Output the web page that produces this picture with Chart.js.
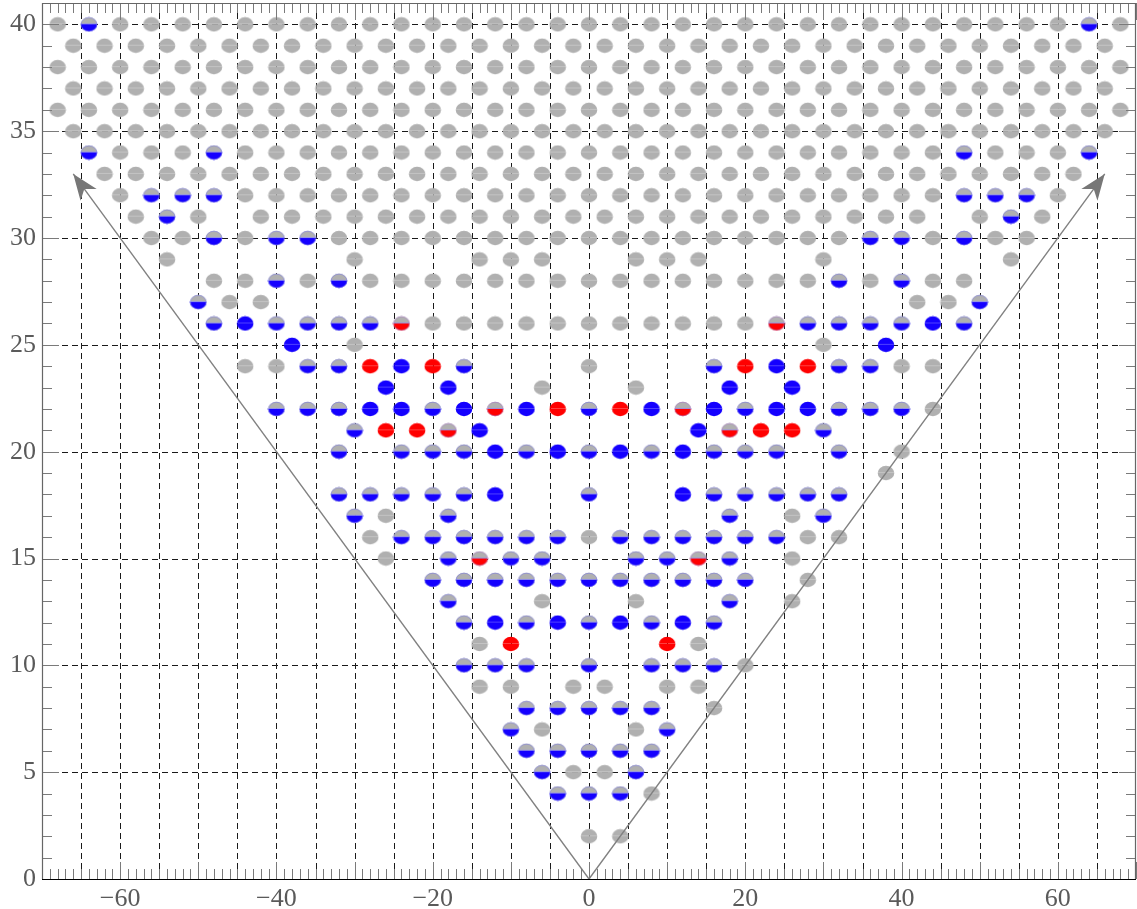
<!DOCTYPE html>
<html><head><meta charset="utf-8">
<script src="https://cdn.jsdelivr.net/npm/chart.js@4"></script>
<style>html,body{margin:0;padding:0;background:#fff}#wrap{width:1137px;height:909px;position:relative}</style>
</head><body><div id="wrap"><canvas id="c"></canvas></div>
<script>
// ---- tick labels / grid values ----
const xTickLabels = [-60,-40,-20,0,20,40,60];
const yTickLabels = [0,5,10,15,20,25,30,35,40];
const gridXValues = [-65,-60,-55,-50,-45,-40,-35,-30,-25,-20,-15,-10,-5,5,10,15,20,25,30,35,40,45,50,55,60,65,0];
const gridYValues = [5,10,15,20,25,30,35,40];

// ---- series: rows of [y, [x values]] ----
const grayRows = [
 [40,[-68,-60,-56,-52,-48,-44,-40,-36,-32,-28,-24,-20,-16,-12,-8,-4,0,4,8,12,16,20,24,28,32,36,40,44,48,52,56,60,68]],
 [39,[-66,-62,-58,-54,-50,-46,-42,-38,-34,-30,-26,-22,-18,-14,-10,-6,-2,2,6,10,14,18,22,26,30,34,38,42,46,50,54,58,62,66]],
 [38,[-68,-64,-60,-56,-52,-48,-44,-40,-36,-32,-28,-24,-20,-16,-12,-8,-4,0,4,8,12,16,20,24,28,32,36,40,44,48,52,56,60,64,68]],
 [37,[-66,-62,-58,-54,-50,-46,-42,-38,-34,-30,-26,-22,-18,-14,-10,-6,-2,2,6,10,14,18,22,26,30,34,38,42,46,50,54,58,62,66]],
 [36,[-68,-64,-60,-56,-52,-48,-44,-40,-36,-32,-28,-24,-20,-16,-12,-8,-4,0,4,8,12,16,20,24,28,32,36,40,44,48,52,56,60,64,68]],
 [35,[-66,-62,-58,-54,-50,-46,-42,-38,-34,-30,-26,-22,-18,-14,-10,-6,-2,2,6,10,14,18,22,26,30,34,38,42,46,50,54,58,62,66]],
 [34,[-60,-56,-52,-44,-40,-36,-32,-28,-24,-20,-16,-12,-8,-4,0,4,8,12,16,20,24,28,32,36,40,44,52,56,60]],
 [33,[-62,-58,-54,-50,-46,-42,-38,-34,-30,-26,-22,-18,-14,-10,-6,-2,2,6,10,14,18,22,26,30,34,38,42,46,50,54,58,62]],
 [32,[-60,-44,-40,-36,-32,-28,-24,-20,-16,-12,-8,-4,0,4,8,12,16,20,24,28,32,36,40,44,60]],
 [31,[-58,-50,-42,-38,-34,-30,-26,-22,-18,-14,-10,-6,-2,2,6,10,14,18,22,26,30,34,38,42,50,58]],
 [30,[-56,-52,-44,-32,-28,-24,-20,-16,-12,-8,-4,0,4,8,12,16,20,24,28,32,44,52,56]],
 [29,[-54,-30,-14,-10,-6,6,10,14,30,54]],
 [28,[-48,-44,-36,-28,-24,-20,-16,-12,-8,-4,0,4,8,12,16,20,24,28,36,44,48]],
 [27,[-46,-42,42,46]],
 [26,[-20,-16,-12,-8,-4,0,4,8,12,16,20]],
 [25,[-30,30]],
 [24,[-44,-40,0,40,44]],
 [23,[-6,6]],
 [22,[44]],
 [20,[40]],
 [19,[38]],
 [17,[-26,26]],
 [16,[-28,0,28,32]],
 [15,[-26,26]],
 [14,[28]],
 [13,[-6,6,26]],
 [11,[-14,14]],
 [10,[20]],
 [9,[-14,-10,-2,2,10,14]],
 [8,[16]],
 [7,[-6,6]],
 [5,[-2,2]],
 [4,[8]],
 [2,[0,4]]
];
const halfBlueRows = [
 [40,[-64,64]],
 [34,[-64,-48,48,64]],
 [32,[-56,-52,-48,48,52,56]],
 [31,[-54,54]],
 [30,[-48,-40,-36,36,40,48]],
 [28,[-40,-32,32,40]],
 [27,[-50,50]],
 [26,[-48,-40,-36,-32,-28,28,32,36,40,48]],
 [24,[-36,-32,-16,16,32,36]],
 [22,[-40,-36,-32,-20,0,20,32,36,40]],
 [21,[-30,30]],
 [20,[-32,-24,-20,-16,-8,0,8,16,20,24,32]],
 [18,[-32,-28,-24,-20,-16,0,16,20,24,28,32]],
 [17,[-30,-18,18,30]],
 [16,[-24,-20,-16,-12,-8,-4,4,8,12,16,20,24]],
 [15,[-18,-10,-6,6,10,18]],
 [14,[-20,-16,-12,-8,-4,0,4,8,12,16,20]],
 [13,[-18,18]],
 [12,[-16,-8,0,8,16]],
 [10,[-16,-12,-8,0,8,12,16]],
 [8,[-8,-4,0,4,8]],
 [7,[-10,10]],
 [6,[-8,-4,0,4,8]],
 [5,[-6,6]],
 [4,[-4,0,4]]
];
const blueRows = [
 [26,[-44,44]],
 [25,[-38,38]],
 [24,[-24,24]],
 [23,[-26,-18,18,26]],
 [22,[-28,-24,-16,-8,8,16,24,28]],
 [21,[-14,14]],
 [20,[-12,-4,4,12]],
 [18,[-12,12]],
 [12,[-12,-4,4,12]]
];
const redRows = [
 [24,[-28,-20,20,28]],
 [22,[-4,4]],
 [21,[-26,-22,22,26]],
 [11,[-10,10]]
];
const halfRedRows = [
 [26,[-24,24]],
 [22,[-12,12]],
 [21,[-18,18]],
 [15,[-14,14]]
];
const arrowLeft = [[0,0],[-66,33]];
const arrowRight = [[0,0],[66,33]];

// ---- helpers ----
const toPts = rows => rows.flatMap(([y,xs]) => xs.map(x => ({x, y})));
const toXY = arr => arr.map(([x,y]) => ({x, y}));

const GRAY='#b0b0b0', BLUE='#1400ff', RED='#ff0000';
function marker(top, bottom, edge){
  const w=18,h=16;
  const c=document.createElement('canvas'); c.width=w; c.height=h;
  const g=c.getContext('2d');
  g.save(); g.beginPath(); g.ellipse(w/2,h/2,8.3,7.2,0,0,Math.PI*2); g.clip();
  g.fillStyle=top; g.fillRect(0,0,w,h/2-0.5);
  g.fillStyle=bottom; g.fillRect(0,h/2-0.5,w,h);
  if(edge){ g.fillStyle='rgba(150,150,230,0.9)'; g.fillRect(0,h/2-1,w,1); }
  g.restore();
  if(edge){ g.beginPath(); g.ellipse(w/2,h/2,7.9,6.8,0,0,Math.PI*2); g.strokeStyle=edge; g.lineWidth=0.7; g.stroke(); }
  return c;
}
const mGray=marker(GRAY,GRAY), mBlue=marker(BLUE,BLUE), mRed=marker(RED,RED);
const mHalfBlue=marker(GRAY,BLUE,'rgba(120,120,230,0.8)');
const mHalfRed=marker(GRAY,RED,'rgba(170,120,200,0.8)');

function pts(rows, style){
  return {type:'scatter', data:toPts(rows), pointStyle:style, pointRadius:8, pointHoverRadius:8,
          borderWidth:0, backgroundColor:'transparent', borderColor:'transparent', order:2};
}
function arrowDs(arr){
  return {type:'line', data:toXY(arr), borderColor:'#808080', borderWidth:1.4, pointRadius:0,
          fill:false, tension:0, order:0, isArrow:true};
}

const framePlugin = {
  id:'framePlugin',
  beforeDatasetsDraw(chart){
    const {ctx, chartArea:a, scales:{x,y}} = chart;
    ctx.save();
    ctx.strokeStyle='#1a1a1a'; ctx.lineWidth=1; ctx.setLineDash([6,4]);
    gridXValues.forEach(v=>{
      const px=Math.round(x.getPixelForValue(v))+0.5;
      ctx.beginPath(); ctx.moveTo(px,a.bottom); ctx.lineTo(px,a.top); ctx.stroke();
    });
    gridYValues.forEach(v=>{
      const py=Math.round(y.getPixelForValue(v))+0.5;
      ctx.beginPath(); ctx.moveTo(a.left,py); ctx.lineTo(a.right,py); ctx.stroke();
    });
    ctx.restore();
  },
  afterDatasetsDraw(chart){
    const {ctx, chartArea:a, scales:{x,y}} = chart;
    ctx.save();
    // arrowheads
    chart.data.datasets.forEach(ds=>{
      if(!ds.isArrow) return;
      const p0={x:x.getPixelForValue(ds.data[0].x), y:y.getPixelForValue(ds.data[0].y)};
      const p1={x:x.getPixelForValue(ds.data[1].x), y:y.getPixelForValue(ds.data[1].y)};
      const ang=Math.atan2(p1.y-p0.y,p1.x-p0.x);
      const L=26, W=10;
      const dx=Math.cos(ang), dy=Math.sin(ang), nx=-dy, ny=dx;
      ctx.fillStyle='#777';
      ctx.beginPath();
      ctx.moveTo(p1.x,p1.y);
      ctx.lineTo(p1.x-L*dx+W*nx, p1.y-L*dy+W*ny);
      ctx.lineTo(p1.x-0.72*L*dx, p1.y-0.72*L*dy);
      ctx.lineTo(p1.x-L*dx-W*nx, p1.y-L*dy-W*ny);
      ctx.closePath(); ctx.fill();
    });
    // ticks
    ctx.strokeStyle='#7a7a7a'; ctx.lineWidth=1;
    for(let v=Math.ceil(x.min); v<=x.max; v++){
      const px=Math.round(x.getPixelForValue(v))+0.5;
      const len = (v%10===0)?17:10;
      ctx.beginPath(); ctx.moveTo(px,a.bottom); ctx.lineTo(px,a.bottom-len); ctx.stroke();
      ctx.beginPath(); ctx.moveTo(px,a.top); ctx.lineTo(px,a.top+len); ctx.stroke();
    }
    for(let v=Math.ceil(y.min); v<=y.max; v++){
      const py=Math.round(y.getPixelForValue(v))+0.5;
      const len = (v%5===0)?17:10;
      ctx.beginPath(); ctx.moveTo(a.left,py); ctx.lineTo(a.left+len,py); ctx.stroke();
      ctx.beginPath(); ctx.moveTo(a.right,py); ctx.lineTo(a.right-len,py); ctx.stroke();
    }
    // frame
    ctx.lineWidth=1.2;
    ctx.strokeStyle='#666';
    ctx.beginPath(); ctx.moveTo(a.left+0.5,a.bottom); ctx.lineTo(a.left+0.5,a.top+0.5);
    ctx.lineTo(a.right-0.5,a.top+0.5); ctx.lineTo(a.right-0.5,a.bottom); ctx.stroke();
    ctx.strokeStyle='#000';
    ctx.beginPath(); ctx.moveTo(a.left,a.bottom+0.5); ctx.lineTo(a.right,a.bottom+0.5); ctx.stroke();
    ctx.restore();
  }
};

const fmt = v => (v<0 ? '\u2212'+Math.abs(v) : String(v));

new Chart(document.getElementById('c'), {
  data:{ datasets:[
    arrowDs(arrowLeft), arrowDs(arrowRight),
    pts(grayRows, mGray), pts(halfBlueRows, mHalfBlue), pts(blueRows, mBlue),
    pts(redRows, mRed), pts(halfRedRows, mHalfRed)
  ]},
  options:{
    responsive:true, maintainAspectRatio:false, animation:false, devicePixelRatio:1,
    layout:{autoPadding:false, padding:{left:0,top:3,right:1,bottom:0}},
    plugins:{legend:{display:false}, tooltip:{enabled:false}},
    events:[],
    scales:{
      x:{type:'linear', min:-70, max:70, position:'bottom',
         grid:{display:false, drawTicks:false}, border:{display:false},
         ticks:{stepSize:10, includeBounds:false, autoSkip:false, maxRotation:0, padding:5,
                color:'#5a5a5a', font:{family:'Liberation Serif', size:26},
                callback:v=> xTickLabels.includes(v)? fmt(v):''},
         afterFit(s){ s.height=30; s.paddingLeft=0; s.paddingRight=0; }},
      y:{type:'linear', min:0, max:41, position:'left',
         grid:{display:false, drawTicks:false}, border:{display:false},
         ticks:{stepSize:5, includeBounds:false, autoSkip:false, padding:6,
                color:'#5a5a5a', font:{family:'Liberation Serif', size:26},
                callback:v=> yTickLabels.includes(v)? String(v):''},
         afterFit(s){ s.width=42; s.paddingTop=0; s.paddingBottom=0; }}
    }
  },
  plugins:[framePlugin]
});
</script></body></html>
